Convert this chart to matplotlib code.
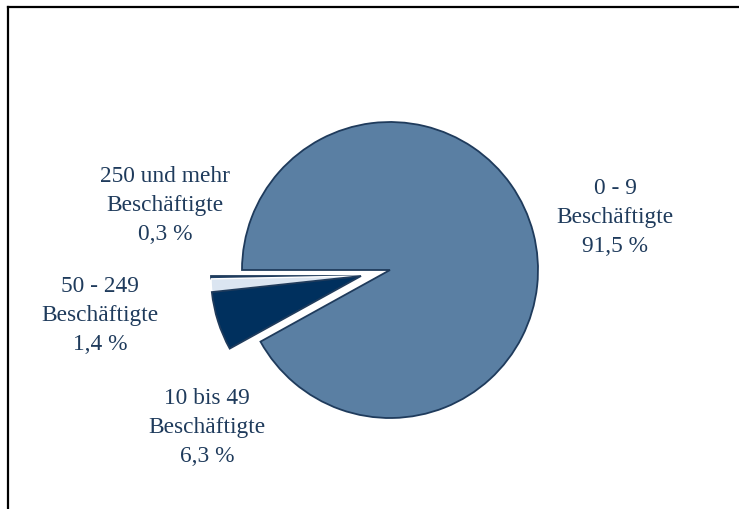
import matplotlib
matplotlib.use("Agg")
import matplotlib.pyplot as plt
from matplotlib.lines import Line2D

categories = ["250 und mehr\nBeschäftigte", "50 - 249\nBeschäftigte",
              "10 bis 49\nBeschäftigte", "0 - 9\nBeschäftigte"]
values = [0.3, 1.4, 6.3, 91.5]
value_labels = ["0,3 %", "1,4 %", "6,3 %", "91,5 %"]
colors = ["#23456b", "#dbe5f1", "#00305e", "#5a7fa3"]

W, H = 739, 510
fig = plt.figure(figsize=(W / 100, H / 100), dpi=100)
ax = fig.add_axes([0, 0, 1, 1])

edge = "#1f3b5c"
# main slice
w_main, _ = ax.pie(values, startangle=180, counterclock=True, colors=colors,
                   center=(390, H - 271), radius=148, frame=True,
                   wedgeprops=dict(edgecolor=edge, linewidth=1.3))
for w in w_main[:3]:
    w.set_visible(False)
# small slices (pulled out together)
w_small, _ = ax.pie(values, startangle=180, counterclock=True, colors=colors,
                    center=(361, H - 277), radius=150, frame=True,
                    wedgeprops=dict(edgecolor=edge, linewidth=1.3))
w_small[3].set_visible(False)
w_small[1].set_edgecolor("white")
w_small[1].set_linewidth(1.0)
ax.set_xlim(0, W)
ax.set_ylim(0, H)
ax.set_aspect("equal")
ax.axis("off")

label_pos = [(165, 206), (100, 315), (207, 428), (615, 218)]
for cat, vl, (x, y) in zip(categories, value_labels, label_pos):
    ax.text(x, H - y, cat + "\n" + vl, ha="center", va="center",
            fontsize=16.8, family="Liberation Serif", color="#1f3b5c",
            linespacing=1.5)

# frame (top and left visible)
fig.add_artist(Line2D([8 / W, 1.0], [1 - 8 / H, 1 - 8 / H], color="black",
                      linewidth=1.6, transform=fig.transFigure))
fig.add_artist(Line2D([8 / W, 8 / W], [0.0, 1 - 8 / H], color="black",
                      linewidth=1.6, transform=fig.transFigure))

fig.savefig("out.png", dpi=100)
